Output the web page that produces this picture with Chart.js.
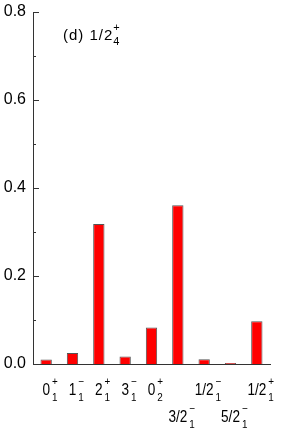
<!DOCTYPE html>
<html><head><meta charset="utf-8">
<script src="https://cdn.jsdelivr.net/npm/chart.js@4"></script>
<style>html,body{margin:0;padding:0;background:#fff}#wrap{width:289px;height:431px}</style>
</head><body><div id="wrap"><canvas id="c" width="289" height="431"></canvas></div>
<script>
// ---- data ----
const stateMain = ['0','1','2','3','0','3/2','1/2','5/2','1/2'];
const stateSub  = ['1','1','1','1','2','1','1','1','1'];
const stateSup  = ['+','\u2212','+','\u2212','+','\u2212','\u2212','\u2212','+'];
const values    = [0.010, 0.025, 0.318, 0.017, 0.083, 0.361, 0.011, 0.002, 0.097];
const yTicks      = [0, 0.2, 0.4, 0.6, 0.8];
const yMinorTicks = [0.1, 0.3, 0.5, 0.7];
const titleMain = '(d) 1/2';
const titleSub  = '4';
const titleSup  = '+';
const lowerRow  = [5, 7]; // labels drawn on the second line

const LBL_FONT = '"Liberation Sans", Arial, sans-serif';

// draw text horizontally condensed (gothic-like narrow glyphs)
function condText(ctx, txt, x, y, sx, align) {
  ctx.save();
  ctx.translate(x, y);
  ctx.scale(sx, 1);
  ctx.textAlign = align;
  ctx.fillText(txt, 0, 0);
  ctx.restore();
}

const decor = {
  id: 'decor',
  afterDraw(chart) {
    const ctx = chart.ctx, a = chart.chartArea;
    const ys = chart.scales.y, xs = chart.scales.x;
    ctx.save();
    // inward ticks on y axis
    ctx.strokeStyle = '#333'; ctx.lineWidth = 1;
    const tick = (v, len) => {
      const y = Math.round(ys.getPixelForValue(v)) + 0.5;
      ctx.beginPath(); ctx.moveTo(a.left, y); ctx.lineTo(a.left + len, y); ctx.stroke();
    };
    yTicks.forEach(v => tick(v, 6));
    yMinorTicks.forEach(v => tick(v, 3));
    // x labels with stacked sub/superscripts
    ctx.fillStyle = '#000';
    ctx.textBaseline = 'alphabetic';
    const SX = 0.8;
    stateMain.forEach((m, i) => {
      const x = xs.getPixelForValue(i);
      const base = a.bottom + 31 + (lowerRow.includes(i) ? 27 : 0);
      ctx.font = '17px ' + LBL_FONT;
      const w = ctx.measureText(m).width * SX;
      condText(ctx, m, x, base, SX, 'center');
      ctx.font = '11px ' + LBL_FONT;
      condText(ctx, stateSub[i], x + w / 2 + 2, base + 6, 0.9, 'left');
      condText(ctx, stateSup[i], x + w / 2 + 2, base - 10, 0.9, 'left');
    });
    // panel title
    ctx.font = '15px ' + LBL_FONT;
    ctx.textAlign = 'left';
    try { ctx.letterSpacing = '1px'; } catch (e) {}
    const tx = a.left + 30, ty = a.top + 28;
    ctx.fillText(titleMain, tx, ty);
    const tw = ctx.measureText(titleMain).width;
    try { ctx.letterSpacing = '0px'; } catch (e) {}
    ctx.font = '11px ' + LBL_FONT;
    ctx.fillText(titleSup, tx + tw, ty - 9);
    ctx.fillText(titleSub, tx + tw, ty + 5);
    ctx.restore();
  }
};

new Chart(document.getElementById('c'), {
  type: 'bar',
  data: {
    labels: stateMain.map((m, i) => m + '_' + stateSub[i] + '^' + stateSup[i]),
    datasets: [{
      data: values,
      backgroundColor: '#ff0000',
      borderColor: '#555555',
      borderWidth: 1,
      categoryPercentage: 1,
      barPercentage: 0.43
    }]
  },
  options: {
    responsive: false,
    devicePixelRatio: 1,
    animation: false,
    events: [],
    layout: { padding: { left: 0, right: 19, top: 12, bottom: 67 } },
    plugins: { legend: { display: false }, tooltip: { enabled: false }, title: { display: false } },
    scales: {
      x: {
        type: 'category',
        offset: true,
        grid: { display: false },
        border: { display: true, color: '#333', width: 1 },
        ticks: { display: false },
        afterFit(s) { s.height = 0; s.paddingLeft = 0; s.paddingRight = 0; s.paddingTop = 0; s.paddingBottom = 0; }
      },
      y: {
        min: 0, max: 0.8,
        grid: { display: false, drawTicks: false },
        border: { display: true, color: '#333', width: 1 },
        afterBuildTicks(s) { s.ticks = yTicks.map(v => ({ value: v })); },
        ticks: {
          padding: 7,
          color: '#000',
          font: { family: '"Liberation Sans", Arial, sans-serif', size: 16 },
          callback: v => Number(v).toFixed(1)
        },
        afterFit(s) { s.width = 33; s.paddingTop = 0; s.paddingBottom = 0; }
      }
    }
  },
  plugins: [decor]
});
</script>
</body></html>
